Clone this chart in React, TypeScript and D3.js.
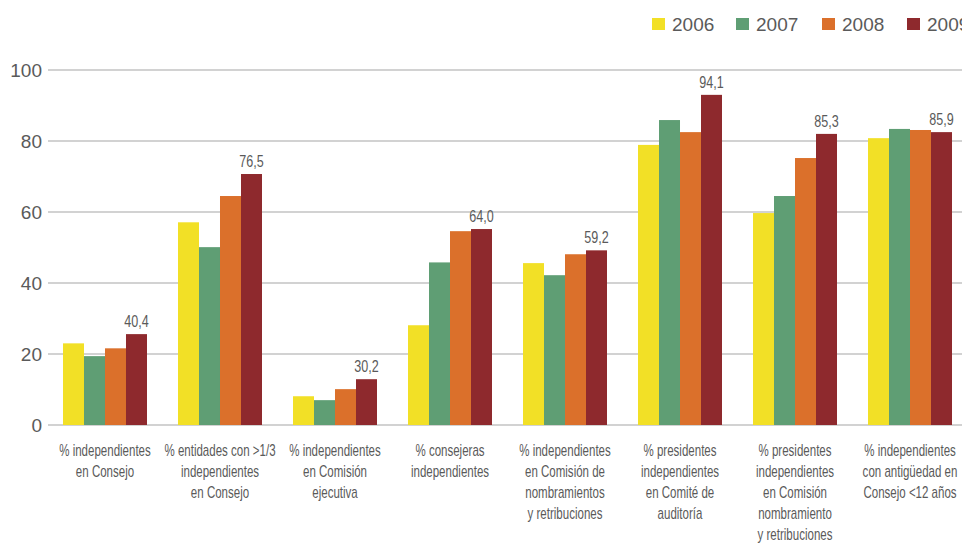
import React from "react";
import * as d3 from "d3";

const categories: string[][] = [
  ["% independientes", "en Consejo"],
  ["% entidades con >1/3", "independientes", "en Consejo"],
  ["% independientes", "en Comisión", "ejecutiva"],
  ["% consejeras", "independientes"],
  ["% independientes", "en Comisión de", "nombramientos", "y retribuciones"],
  ["% presidentes", "independientes", "en Comité de", "auditoría"],
  ["% presidentes", "independientes", "en Comisión", "nombramiento", "y retribuciones"],
  ["% independientes", "con antigüedad en", "Consejo <12 años"],
];
const series = ["2006", "2007", "2008", "2009"];
const values2006 = [23.0, 57.1, 8.1, 28.1, 45.6, 78.9, 59.7, 80.8];
const values2007 = [19.4, 50.1, 7.0, 45.8, 42.2, 85.9, 64.5, 83.4];
const values2008 = [21.6, 64.5, 10.1, 54.6, 48.1, 82.5, 75.2, 83.1];
const values2009 = [25.6, 70.7, 12.9, 55.2, 49.2, 93.0, 82.0, 82.5];
const labels2009 = ["40,4", "76,5", "30,2", "64,0", "59,2", "94,1", "85,3", "85,9"];
const yTicks = [0, 20, 40, 60, 80, 100];
const colors = ["#f2e026", "#5f9e74", "#db702b", "#8e292d"];

const W = 962;
const H = 543;
const font = "'Liberation Sans', Arial, sans-serif";
const textColor = "#5a5a5a";

export default function App() {
  const allValues = [values2006, values2007, values2008, values2009];
  const idx = categories.map((_, i) => i);
  const x0 = d3
    .scaleBand<number>()
    .domain(idx)
    .range([48, 967])
    .paddingInner(0.2696)
    .paddingOuter(0.1304);
  const x1 = d3.scaleBand<string>().domain(series).range([0, x0.bandwidth()]);
  const y = d3.scaleLinear().domain([0, 100]).range([425, 70]);

  return (
    <svg width={W} height={H} style={{ display: "block", background: "#fff" }}>
      <style>{`body{margin:0}`}</style>
      {/* gridlines */}
      {yTicks.map((t) => (
        <g key={t}>
          <line x1={48} x2={W} y1={y(t)} y2={y(t)} stroke="#d2d2d2" strokeWidth={2} />
          <text
            x={42}
            y={y(t)}
            dy="0.38em"
            textAnchor="end"
            fontFamily={font}
            fontSize={19}
            fill={textColor}
          >
            {t}
          </text>
        </g>
      ))}
      {/* bars */}
      {series.map((s, si) => (
        <g key={s}>
          {idx.map((i) => {
            const v = allValues[si][i];
            return (
              <rect
                key={i}
                x={(x0(i) as number) + (x1(s) as number)}
                y={y(v)}
                width={x1.bandwidth()}
                height={y(0) - y(v)}
                fill={colors[si]}
              />
            );
          })}
        </g>
      ))}
      {/* value labels */}
      {idx.map((i) => (
        <g
          key={i}
          transform={`translate(${(x0(i) as number) + (x1("2009") as number) + x1.bandwidth() / 2},${
            y(values2009[i]) - 7
          }) scale(0.74,1)`}
        >
          <text x={0} y={0} textAnchor="middle" fontFamily={font} fontSize={17} fill={textColor}>
            {labels2009[i]}
          </text>
        </g>
      ))}
      {/* category labels */}
      {categories.map((lines, i) => (
        <g
          key={i}
          transform={`translate(${(x0(i) as number) + x0.bandwidth() / 2},0) scale(0.72,1)`}
        >
          <text textAnchor="middle" fontFamily={font} fontSize={16} fill={textColor}>
            {lines.map((ln, li) => (
              <tspan key={li} x={0} y={456 + li * 21}>
                {ln}
              </tspan>
            ))}
          </text>
        </g>
      ))}
      {/* legend */}
      {series.map((s, si) => {
        const lx = [652, 736, 822, 907][si];
        return (
          <g key={s}>
            <rect x={lx} y={18} width={13} height={12} fill={colors[si]} />
            <text x={lx + 20} y={31} fontFamily={font} fontSize={19} fill={textColor}>
              {s}
            </text>
          </g>
        );
      })}
    </svg>
  );
}
